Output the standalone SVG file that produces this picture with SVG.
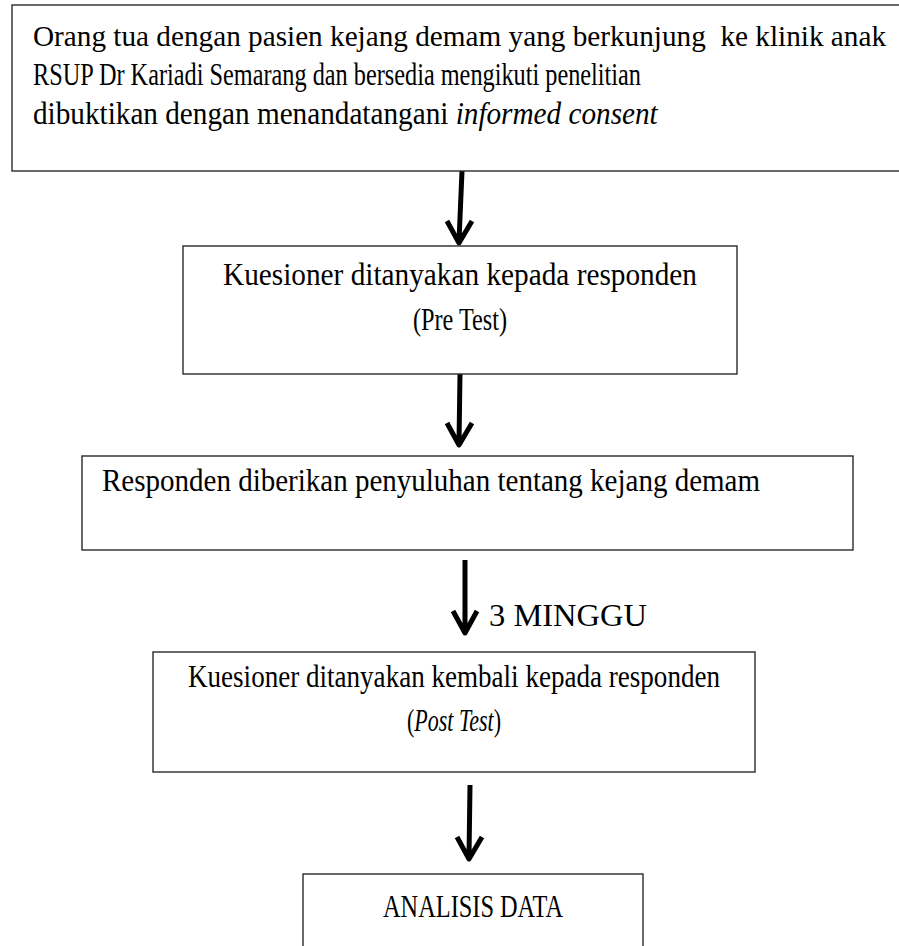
<svg xmlns="http://www.w3.org/2000/svg" width="899" height="946" viewBox="0 0 899 946">
<style>
  .box { fill: #ffffff; stroke: #2a2a2a; stroke-width: 1.4; }
  .t { font-family: "Liberation Serif", "Times New Roman", serif; font-size: 31px; fill: #000; }
  .c { text-anchor: middle; }
  .arr { fill: none; stroke: #000; stroke-width: 5; stroke-linecap: butt; stroke-linejoin: round; }
</style>
<rect x="0" y="0" width="899" height="946" fill="#ffffff"/>
<g id="connectors">
  <path class="arr" d="M462,171 L459,241 M447,221 L459,243 L472,221"/>
  <path class="arr" d="M460,374 L459,443 M447,423 L459,445 L472,423"/>
  <path class="arr" d="M465,560 L465,631 M453,611 L465,633 L477,611"/>
  <text class="t" x="489" y="626" style="font-size:32px" textLength="158" lengthAdjust="spacingAndGlyphs">3 MINGGU</text>
  <path class="arr" d="M470,785 L469,857 M457,837 L469,859 L482,837"/>
</g>
<g id="node1">
  <rect class="box" x="12" y="5" width="900" height="166"/>
  <text class="t" x="33" y="46" xml:space="preserve" style="font-size:29px" textLength="853" lengthAdjust="spacingAndGlyphs">Orang tua dengan pasien kejang demam yang berkunjung  ke klinik anak</text>
  <text class="t" x="33" y="85" textLength="608" lengthAdjust="spacingAndGlyphs">RSUP Dr Kariadi Semarang dan bersedia mengikuti penelitian</text>
  <text class="t" transform="translate(33,124) scale(0.943,1)" x="0" y="0">dibuktikan dengan menandatangani <tspan font-style="italic">informed consent</tspan></text>
</g>
<g id="node2">
  <rect class="box" x="183" y="246" width="554" height="128"/>
  <text class="t c" x="460" y="285" textLength="474" lengthAdjust="spacingAndGlyphs">Kuesioner ditanyakan kepada responden</text>
  <text class="t c" x="460" y="330" textLength="94" lengthAdjust="spacingAndGlyphs">(Pre Test)</text>
</g>
<g id="node3">
  <rect class="box" x="82" y="456" width="771" height="94"/>
  <text class="t" x="102" y="491" textLength="658" lengthAdjust="spacingAndGlyphs">Responden diberikan penyuluhan tentang kejang demam</text>
</g>
<g id="node4">
  <rect class="box" x="153" y="652" width="602" height="120"/>
  <text class="t c" x="454" y="687" textLength="532" lengthAdjust="spacingAndGlyphs">Kuesioner ditanyakan kembali kepada responden</text>
  <text class="t c" transform="translate(454,731) scale(0.71,1)" x="0" y="0">(<tspan font-style="italic">Post Test</tspan>)</text>
</g>
<g id="node5">
  <rect class="box" x="303" y="874" width="340" height="100"/>
  <text class="t c" x="473" y="917" textLength="180" lengthAdjust="spacingAndGlyphs">ANALISIS DATA</text>
</g>
</svg>
